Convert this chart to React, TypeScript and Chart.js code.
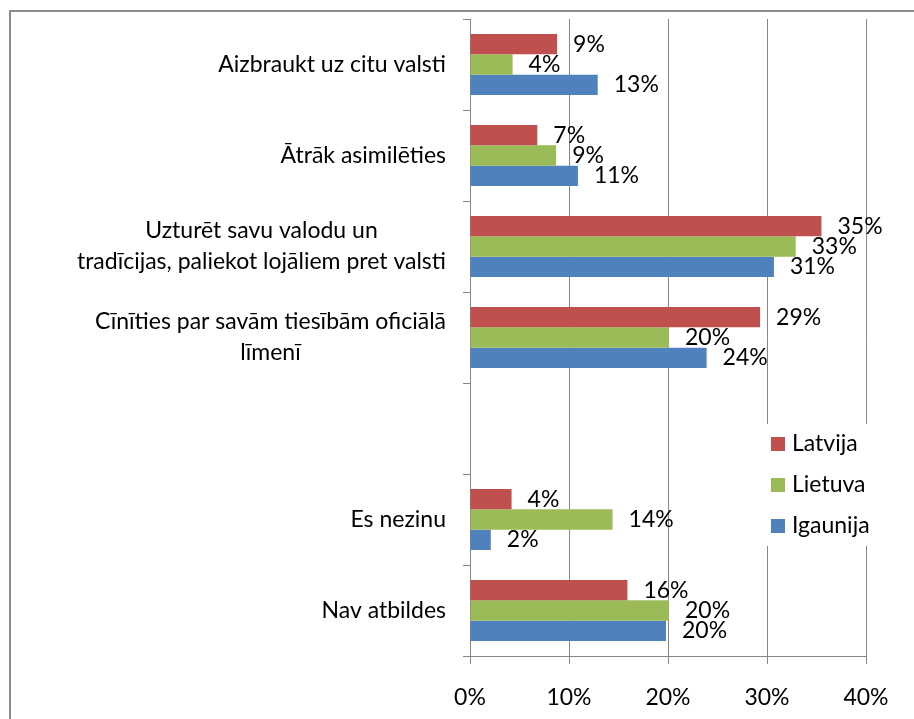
import React, { useEffect, useRef } from "react";
import { Chart, registerables } from "chart.js";

Chart.register(...registerables);

const categories: string[][] = [
  ["Aizbraukt uz citu valsti"],
  ["Ātrāk asimilēties"],
  ["Uzturēt savu valodu un", "tradīcijas, paliekot lojāliem pret valsti"],
  ["Cīnīties par savām tiesībām oficiālā", "līmenī"],
  [""],
  ["Es nezinu"],
  ["Nav atbildes"],
];

const seriesNames = ["Latvija", "Lietuva", "Igaunija"];
const seriesColors = ["#C0504D", "#9BBB59", "#4F81BD"];

const latvija = [8.8, 6.8, 35.5, 29.3, null, 4.2, 15.9];
const lietuva = [4.3, 8.7, 32.9, 20.1, null, 14.4, 20.1];
const igaunija = [12.9, 10.9, 30.7, 23.9, null, 2.1, 19.8];

const latvijaLabels = ["9%", "7%", "35%", "29%", "", "4%", "16%"];
const lietuvaLabels = ["4%", "9%", "33%", "20%", "", "14%", "20%"];
const igaunijaLabels = ["13%", "11%", "31%", "24%", "", "2%", "20%"];

const xTickValues = [0, 10, 20, 30, 40];

const FONT = "Lato, 'Open Sans', sans-serif";
const FONT_SIZE = 23;
const GRID = "#868686";

export default function App() {
  const ref = useRef<HTMLCanvasElement | null>(null);

  useEffect(() => {
    if (!ref.current) return;
    const allLabels = [latvijaLabels, lietuvaLabels, igaunijaLabels];

    const customPlugin = {
      id: "custom",
      beforeDraw(chart: any) {
        const ctx = chart.ctx;
        ctx.save();
        ctx.fillStyle = "#ffffff";
        ctx.fillRect(0, 0, chart.width, chart.height);
        ctx.restore();
      },
      afterDraw(chart: any) {
        const ctx = chart.ctx;
        const area = chart.chartArea;
        const yScale = chart.scales.y;
        ctx.save();
        // outer border
        ctx.strokeStyle = "#8c8c8c";
        ctx.lineWidth = 2;
        ctx.beginPath();
        ctx.moveTo(10, chart.height + 5);
        ctx.lineTo(10, 11);
        ctx.lineTo(chart.width + 5, 11);
        ctx.stroke();

        ctx.font = `${FONT_SIZE}px ${FONT}`;
        ctx.fillStyle = "#000000";
        ctx.textBaseline = "middle";

        // category labels
        const right = area.left - 24;
        const lineH = 31;
        categories.forEach((lines, i) => {
          const cy = yScale.getPixelForValue(i);
          const widths = lines.map((l) => ctx.measureText(l).width);
          const maxW = Math.max(...widths);
          lines.forEach((l, j) => {
            const y = cy + (j - (lines.length - 1) / 2) * lineH;
            if (lines.length === 1) {
              ctx.textAlign = "right";
              ctx.fillText(l, right, y);
            } else {
              ctx.textAlign = "center";
              ctx.fillText(l, right - maxW / 2, y);
            }
          });
        });

        // data labels
        ctx.textAlign = "left";
        chart.data.datasets.forEach((ds: any, di: number) => {
          const meta = chart.getDatasetMeta(di);
          meta.data.forEach((bar: any, i: number) => {
            if (ds.data[i] === null) return;
            const txt = allLabels[di][i];
            ctx.fillText(txt, bar.x + 16, bar.y);
          });
        });

        // legend
        const lx = area.right - 105;
        const ly = 424;
        ctx.fillStyle = "#ffffff";
        ctx.fillRect(lx, ly, 112, 122);
        seriesNames.forEach((name, i) => {
          const cy = 444 + i * 41;
          ctx.fillStyle = seriesColors[i];
          ctx.fillRect(area.right - 95, cy - 7, 14, 14);
          ctx.fillStyle = "#000000";
          ctx.textAlign = "left";
          ctx.fillText(name, area.right - 74, cy);
        });
        ctx.restore();
      },
    };

    const chart = new Chart(ref.current, {
      type: "bar",
      data: {
        labels: categories.map((c) => c.join(" ")),
        datasets: [
          { label: seriesNames[0], data: latvija, backgroundColor: seriesColors[0] },
          { label: seriesNames[1], data: lietuva, backgroundColor: seriesColors[1] },
          { label: seriesNames[2], data: igaunija, backgroundColor: seriesColors[2] },
        ] as any,
      },
      options: {
        indexAxis: "y",
        responsive: false,
        animation: false,
        datasets: {
          bar: { categoryPercentage: 0.67, barPercentage: 1.0, borderWidth: 0 },
        },
        layout: { padding: { top: 19, right: 48, left: 0, bottom: 0 } },
        plugins: { legend: { display: false }, tooltip: { enabled: false } },
        scales: {
          x: {
            min: 0,
            max: 40,
            afterBuildTicks: (scale: any) => {
              scale.ticks = xTickValues.map((v) => ({ value: v }));
            },
            afterFit: (scale: any) => {
              scale.height = 63;
            },
            ticks: {
              callback: (v: any) => `${v}%`,
              font: { family: FONT, size: FONT_SIZE },
              color: "#000000",
              padding: 20,
            },
            grid: { color: GRID, lineWidth: 1, tickLength: 8, drawTicks: true },
            border: { display: true, color: GRID, width: 1 },
          },
          y: {
            type: "category",
            afterFit: (scale: any) => {
              scale.width = 470;
            },
            ticks: { display: false, autoSkip: false },
            grid: {
              offset: true,
              drawOnChartArea: false,
              drawTicks: true,
              tickLength: 7,
              color: GRID,
              lineWidth: 1,
            },
            border: { display: true, color: GRID, width: 1 },
          },
        },
      },
      plugins: [customPlugin],
    });
    return () => chart.destroy();
  }, []);

  return (
    <div style={{ position: "fixed", left: 0, top: 0, width: 914, height: 719 }}>
      <canvas ref={ref} width={914} height={719} style={{ display: "block" }} />
    </div>
  );
}
